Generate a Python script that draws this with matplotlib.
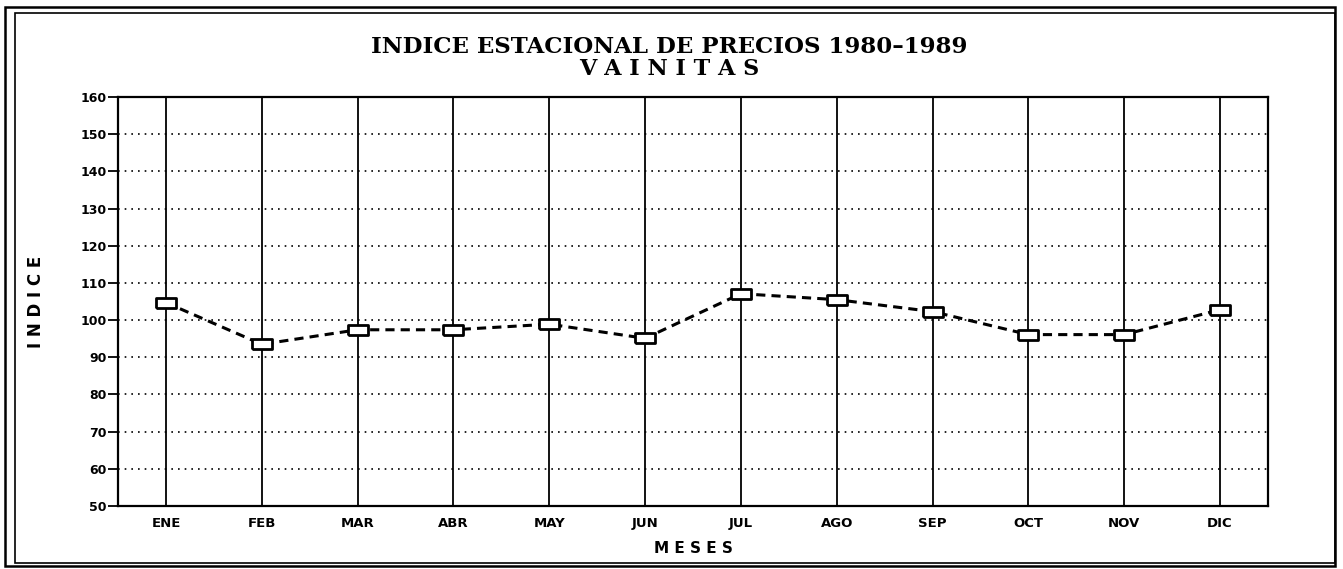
import matplotlib
matplotlib.use('Agg')
import matplotlib.pyplot as plt
from matplotlib.patches import Rectangle

# seasonal price index, vainitas 1980-1989
meses = ['ENE', 'FEB', 'MAR', 'ABR', 'MAY', 'JUN', 'JUL', 'AGO', 'SEP', 'OCT', 'NOV', 'DIC']
indice = [104.7, 93.5, 97.4, 97.4, 98.9, 95.1, 107.1, 105.5, 102.3, 96.1, 96.1, 102.8]
yticks = [50, 60, 70, 80, 90, 100, 110, 120, 130, 140, 150, 160]

fig = plt.figure(figsize=(13.43, 5.69), dpi=100)
ax = fig.add_axes([0.0879, 0.1107, 0.8562, 0.7188])

x = list(range(1, len(meses) + 1))

# vertical solid grid, horizontal dotted grid
for xi in x:
    ax.axvline(xi, color='black', lw=1.3, zorder=1)
for yv in yticks[1:-1]:
    ax.axhline(yv, color='black', lw=1.2, ls=(0, (1, 3)), zorder=1)

rect = [(-1, -0.5), (1, -0.5), (1, 0.5), (-1, 0.5), (-1, -0.5)]
ax.plot(x, indice, color='black', lw=2.2, ls=(0, (3, 2)), zorder=2)
ax.plot(x, indice, ls='none', marker=rect, ms=14, mfc='white', mec='black', mew=2, zorder=3)

ax.set_xlim(0.5, 12.5)
ax.set_ylim(50, 160)
ax.set_yticks(yticks)
ax.set_yticklabels([str(v) for v in yticks], fontsize=9, fontweight='bold')
ax.set_xticks(x)
ax.set_xticklabels(meses, fontsize=9.5, fontweight='bold')
ax.tick_params(axis='y', direction='out', length=7, width=1.3, pad=1)
ax.tick_params(axis='x', length=0, pad=8)
for s in ax.spines.values():
    s.set_linewidth(1.6)

ax.set_ylabel('I N D I C E', fontsize=12, fontweight='bold', labelpad=26)
ax.set_xlabel('M E S E S', fontsize=11, fontweight='bold', labelpad=8)

fig.text(0.498, 0.918, 'INDICE ESTACIONAL DE PRECIOS 1980\u20131989', ha='center', va='center',
         fontsize=16.5, fontweight='bold', family='DejaVu Serif')
fig.text(0.498, 0.879, 'V A I N I T A S', ha='center', va='center', fontsize=16,
         fontweight='bold', family='DejaVu Serif')

# double outer frame
fig.patches.append(Rectangle((0.004, 0.006), 0.99, 0.982, transform=fig.transFigure,
                             fill=False, lw=1.8, ec='black'))
fig.patches.append(Rectangle((0.011, 0.01), 0.983, 0.968, transform=fig.transFigure,
                             fill=False, lw=1.2, ec='black'))

fig.savefig('out.png', dpi=100)
